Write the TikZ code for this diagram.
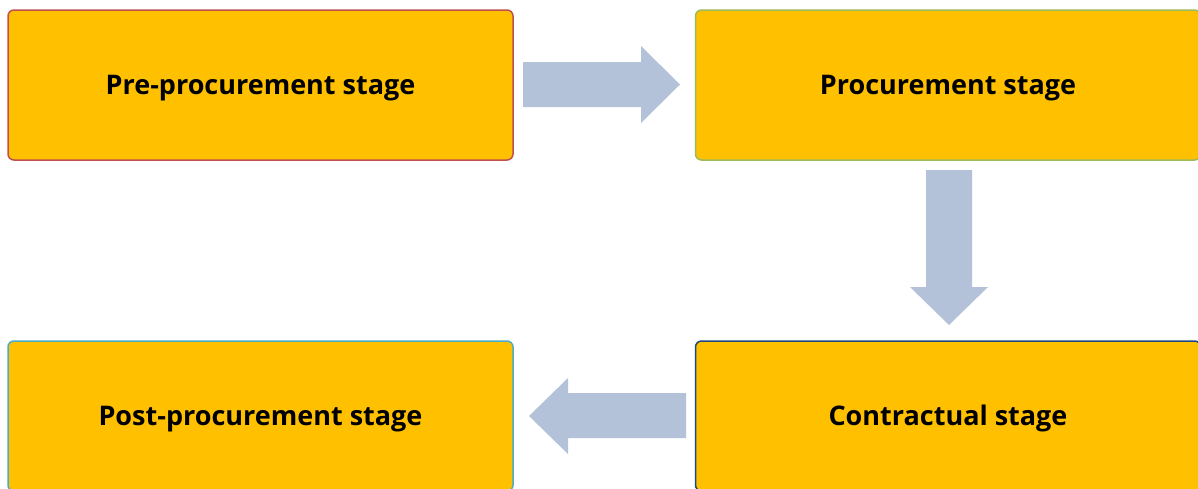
\documentclass[tikz,border=0pt]{standalone}
\usepackage{fontspec}
\setmainfont{Open Sans}
\definecolor{boxfill}{HTML}{FFC000}
\definecolor{arrowc}{HTML}{B3C1D9}
\definecolor{bred}{HTML}{C0504D}
\definecolor{bgreen}{HTML}{9BBB59}
\definecolor{bblue}{HTML}{1F497D}
\definecolor{bteal}{HTML}{4BACC6}
\tikzset{
  stagebox/.style={draw=#1, line width=1.5pt, fill=boxfill, rounded corners=6pt, minimum width=505pt, minimum height=150pt, inner sep=0pt, text height=19.3pt, text depth=0pt, font=\bfseries\fontsize{27}{32}\selectfont},
  bigarrow/.style={fill=arrowc, draw=none}
}
\begin{document}
\begin{tikzpicture}[x=1pt,y=-1pt]
\useasboundingbox (0,0) rectangle (1198,488);
\node[stagebox=bred] (pre) at (260.5,85) {Pre-procurement stage};
\node[stagebox=bgreen] (proc) at (948,85) {Procurement stage};
\node[stagebox=bblue] (con) at (948,416) {Contractual stage};
\node[stagebox=bteal] (post) at (260.5,416) {Post-procurement stage};
% right arrow
\fill[bigarrow] (523,62) -- (641,62) -- (641,46) -- (680,84.5) -- (641,123) -- (641,107) -- (523,107) -- cycle;
% down arrow
\fill[bigarrow] (926,170) -- (972,170) -- (972,287) -- (988,287) -- (949,325) -- (910,287) -- (926,287) -- cycle;
% left arrow
\fill[bigarrow] (686,393) -- (568,393) -- (568,378) -- (529,416) -- (568,454) -- (568,438) -- (686,438) -- cycle;
\end{tikzpicture}
\end{document}
